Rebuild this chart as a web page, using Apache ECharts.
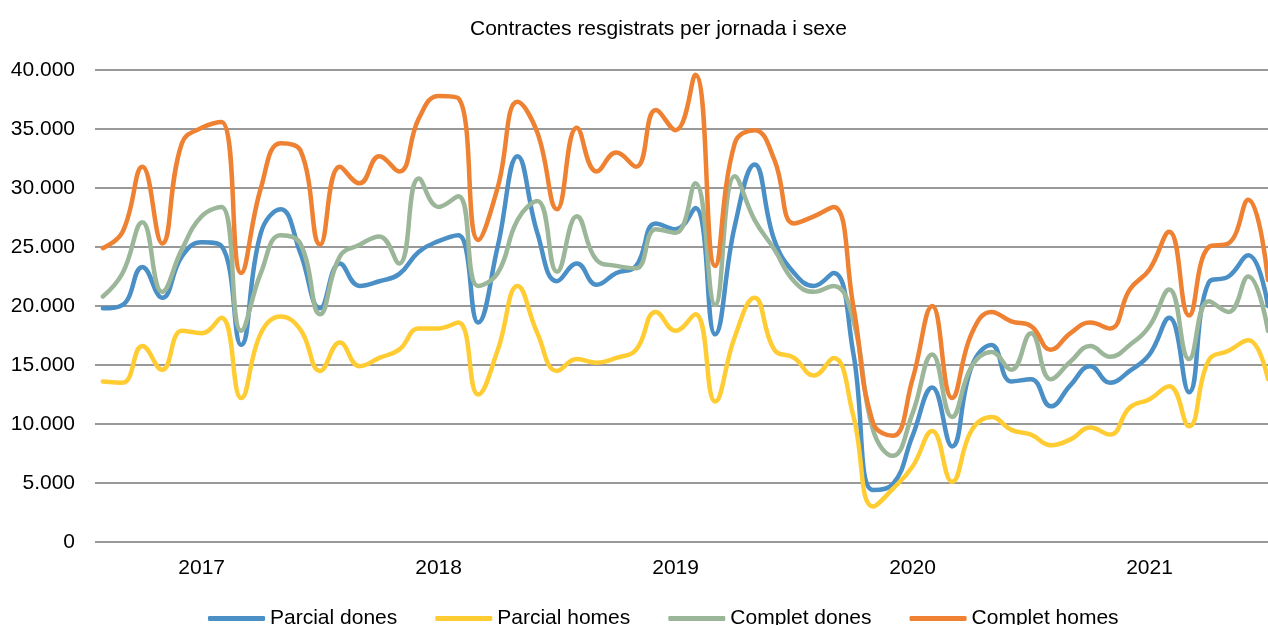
<!DOCTYPE html>
<html>
<head>
<meta charset="utf-8">
<script src="https://cdn.jsdelivr.net/npm/echarts@6/dist/echarts.min.js"></script>
<style>
html,body{margin:0;padding:0;background:#fff;}
#chart{width:1268px;height:625px;}
</style>
</head>
<body>
<div id="chart"></div>
<script>
// Monthly data, Aug 2016 .. Jul 2021 (60 months), index 0 = Aug 2016
const title = 'Contractes resgistrats per jornada i sexe';
const seriesNames = ['Parcial dones', 'Parcial homes', 'Complet dones', 'Complet homes'];
const yearLabels = ['2017', '2018', '2019', '2020', '2021'];
const yearLabelIndex = [5, 17, 29, 41, 53];

const parcialDones = [
  19800, 20100, 23300, 20700, 24200, 25400, 25100, 16700, 26200, 28200,
  24500, 19800, 23600, 21700, 22100, 22700, 24600, 25500, 26000, 18600,
  25100, 32700, 26200, 22100, 23600, 21800, 22800, 23400, 27000, 26500,
  28300, 17600, 26800, 32000, 25600, 22800, 21700, 22800, 16000, 4400,
  4900, 9000, 13100, 8100, 14900, 16700, 13600, 13800, 11500, 13300,
  14900, 13500, 14500, 15900, 19000, 12700, 22000, 22500, 24300, 20000
];
const parcialHomes = [
  13600, 13500, 16600, 14600, 17900, 17700, 19000, 12200, 17700, 19100,
  18000, 14500, 16900, 14900, 15600, 16300, 18100, 18100, 18600, 12500,
  16300, 21700, 17700, 14500, 15500, 15200, 15600, 16300, 19500, 17900,
  19300, 11900, 17400, 20700, 16300, 15600, 14100, 15600, 10700, 3000,
  4500, 6400, 9400, 5100, 9500, 10600, 9500, 9100, 8200, 8700,
  9700, 9100, 11400, 12100, 13200, 9800, 15400, 16200, 17100, 13800
];
const completDones = [
  20800, 22800, 27100, 21200, 24800, 27600, 28400, 17900, 22800, 26000,
  25300, 19300, 24200, 25200, 25900, 23600, 30800, 28400, 29300, 21700,
  22800, 27300, 28900, 22900, 27600, 23900, 23400, 23200, 26500, 26200,
  30400, 20100, 31000, 27300, 24800, 22100, 21200, 21700, 18800, 9500,
  7300, 10900, 15900, 10600, 14900, 16100, 14600, 17700, 13800, 15300,
  16600, 15700, 16700, 18300, 21400, 15500, 20400, 19500, 22500, 17900
];
const completHomes = [
  24900, 26300, 31800, 25300, 33800, 35100, 35600, 22800, 30000, 33800,
  33200, 25200, 31800, 30400, 32700, 31400, 35900, 37800, 37600, 25600,
  30100, 37300, 34700, 28200, 35100, 31400, 33000, 31800, 36600, 34900,
  39600, 23400, 33800, 34900, 32400, 27000, 27600, 28400, 20000, 10100,
  9000, 13800, 20000, 12200, 17700, 19500, 18700, 18300, 16300, 17700,
  18600, 18100, 21400, 23100, 26300, 19200, 25000, 25300, 29000, 22200
];

const colors = ['#4A8FC5', '#FFCD33', '#9CB699', '#EE8232'];
const allData = [parcialDones, parcialHomes, completDones, completHomes];

const chart = echarts.init(document.getElementById('chart'), null, {renderer: 'canvas'});
const fontFamily = '"Liberation Sans", Arial, sans-serif';

const fmtThousands = v => {
  const s = Math.round(v).toString();
  return s.replace(/\B(?=(\d{3})+(?!\d))/g, '.');
};

chart.setOption({
  animation: false,
  backgroundColor: '#fff',
  title: {
    text: title,
    left: 465,
    top: 14,
    textStyle: {fontFamily, fontSize: 21, fontWeight: 'normal', color: '#000'}
  },
  legend: {
    data: seriesNames,
    left: 203,
    top: 603,
    itemGap: 38,
    itemWidth: 57,
    itemHeight: 5,
    icon: 'roundRect',
    textStyle: {fontFamily, fontSize: 21, color: '#000'}
  },
  grid: {left: 95, right: 0, top: 70, bottom: 83, containLabel: false},
  xAxis: {
    type: 'value',
    min: -0.4,
    max: 59,
    axisLine: {show: false},
    axisTick: {show: false},
    splitLine: {show: false},
    axisLabel: {
      customValues: yearLabelIndex,
      formatter: v => {
        const k = yearLabelIndex.indexOf(Math.round(v));
        return k >= 0 ? yearLabels[k] : '';
      },
      margin: 16,
      fontFamily, fontSize: 21, color: '#000'
    }
  },
  yAxis: {
    type: 'value',
    min: 0,
    max: 40000,
    interval: 5000,
    axisLine: {show: false},
    axisTick: {show: false},
    axisLabel: {
      formatter: fmtThousands,
      margin: 20,
      fontFamily, fontSize: 21, color: '#000'
    },
    splitLine: {lineStyle: {color: '#999999', width: 2}}
  },
  series: seriesNames.map((name, s) => ({
    name,
    type: 'line',
    smooth: 0.45,
    showSymbol: false,
    symbol: 'none',
    clip: true,
    color: colors[s],
    lineStyle: {width: 4.5, color: colors[s], cap: 'round', join: 'round'},
    data: allData[s].map((v, i) => [i, v])
  }))
});
</script>
</body>
</html>
